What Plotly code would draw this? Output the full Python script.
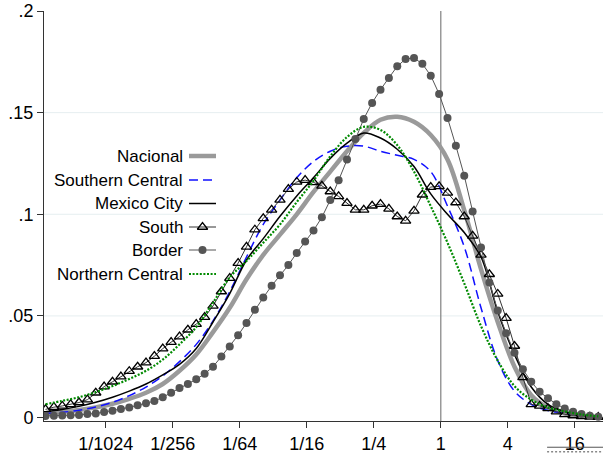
import numpy as np
import plotly.graph_objects as go

# Evaluation grid, log2 of the income ratio
grid_log2 = [-11.8, -11.55, -11.3, -11.05, -10.8, -10.55, -10.3, -10.05, -9.8, -9.55,
             -9.3, -9.05, -8.8, -8.55, -8.3, -8.05, -7.8, -7.55, -7.3, -7.05,
             -6.8, -6.55, -6.3, -6.05, -5.8, -5.55, -5.3, -5.05, -4.8, -4.55,
             -4.3, -4.05, -3.8, -3.55, -3.3, -3.05, -2.8, -2.55, -2.3, -2.05,
             -1.8, -1.55, -1.3, -1.05, -0.8, -0.55, -0.3, -0.05, 0.2, 0.45,
             0.7, 0.95, 1.2, 1.45, 1.7, 1.95, 2.2, 2.45, 2.7, 2.95,
             3.2, 3.45, 3.7, 3.95, 4.2, 4.45, 4.7]
smooth_log2 = grid_log2[::2]

south = [0.0040, 0.0051, 0.0057, 0.0065, 0.0074, 0.0088, 0.0122, 0.0152, 0.0176, 0.0201,
         0.0228, 0.0250, 0.0270, 0.0302, 0.0339, 0.0371, 0.0398, 0.0432, 0.0460, 0.0494,
         0.0549, 0.0620, 0.0686, 0.0760, 0.0840, 0.0924, 0.0980, 0.1022, 0.1071, 0.1124,
         0.1159, 0.1168, 0.1157, 0.1140, 0.1112, 0.1088, 0.1055, 0.1022, 0.1022, 0.1042,
         0.1050, 0.1027, 0.0989, 0.0968, 0.1017, 0.1096, 0.1134, 0.1137, 0.1105, 0.1058,
         0.0989, 0.0894, 0.0800, 0.0705, 0.0608, 0.0489, 0.0352, 0.0198, 0.0065, 0.0057,
         0.0045, 0.0029, 0.0016, 0.0010, 0.0006, 0.0003, 0.0002]

border = [0.0008, 0.0009, 0.0010, 0.0011, 0.0013, 0.0017, 0.0020, 0.0027, 0.0034, 0.0042,
          0.0050, 0.0060, 0.0070, 0.0081, 0.0100, 0.0122, 0.0145, 0.0165, 0.0188, 0.0215,
          0.0250, 0.0300, 0.0350, 0.0405, 0.0465, 0.0530, 0.0590, 0.0648, 0.0700, 0.0750,
          0.0810, 0.0866, 0.0920, 0.0985, 0.1070, 0.1167, 0.1270, 0.1370, 0.1469, 0.1548,
          0.1613, 0.1671, 0.1728, 0.1764, 0.1769, 0.1740, 0.1682, 0.1592, 0.1474, 0.1337,
          0.1190, 0.1014, 0.0837, 0.0664, 0.0526, 0.0415, 0.0319, 0.0237, 0.0176, 0.0127,
          0.0095, 0.0066, 0.0045, 0.0029, 0.0017, 0.0009, 0.0004]

nacional = [0.0020, 0.0028, 0.0037, 0.0050, 0.0068, 0.0092, 0.0122, 0.0165, 0.0230, 0.0310,
            0.0420, 0.0540, 0.0680, 0.0800, 0.0900, 0.1000, 0.1110, 0.1210, 0.1310, 0.1400,
            0.1465, 0.1480, 0.1455, 0.1390, 0.1270, 0.1020, 0.0730, 0.0470, 0.0250, 0.0110,
            0.0048, 0.0020, 0.0008, 0.0003]

southern_central = [0.0020, 0.0026, 0.0036, 0.0052, 0.0075, 0.0108, 0.0150, 0.0205, 0.0275, 0.0360,
                    0.0475, 0.0620, 0.0790, 0.0950, 0.1070, 0.1180, 0.1260, 0.1310, 0.1335, 0.1335,
                    0.1310, 0.1290, 0.1270, 0.1210, 0.1040, 0.0840, 0.0540, 0.0280, 0.0130, 0.0065,
                    0.0035, 0.0020, 0.0010, 0.0005]

mexico_city = [0.0029, 0.0040, 0.0055, 0.0075, 0.0100, 0.0130, 0.0165, 0.0210, 0.0262, 0.0340,
               0.0470, 0.0610, 0.0775, 0.0880, 0.0990, 0.1090, 0.1180, 0.1275, 0.1350, 0.1400,
               0.1375, 0.1320, 0.1235, 0.1100, 0.1000, 0.0910, 0.0790, 0.0520, 0.0310, 0.0150,
               0.0065, 0.0030, 0.0013, 0.0005]

northern_central = [0.0065, 0.0082, 0.0100, 0.0125, 0.0155, 0.0190, 0.0230, 0.0285, 0.0360, 0.0445,
                    0.0565, 0.0690, 0.0770, 0.0860, 0.0950, 0.1060, 0.1165, 0.1285, 0.1380, 0.1430,
                    0.1415, 0.1340, 0.1210, 0.1040, 0.0860, 0.0660, 0.0450, 0.0280, 0.0155, 0.0088,
                    0.0050, 0.0030, 0.0015, 0.0006]

x_tick_vals = [1 / 1024, 1 / 256, 1 / 64, 1 / 16, 1 / 4, 1, 4, 16]
x_tick_text = ["1/1024", "1/256", "1/64", "1/16", "1/4", "1", "4", "16"]
y_tick_vals = [0, 0.05, 0.1, 0.15, 0.2]
y_tick_text = ["0", ".05", ".1", ".15", ".2"]

FONT = "Liberation Sans, Arial, sans-serif"

x_grid = 2.0 ** np.array(grid_log2)
x_smooth = 2.0 ** np.array(smooth_log2)

series = [
    dict(name="Nacional", x=x_smooth, y=nacional,
         line=dict(color="#9a9a9a", width=4.5), mode="lines", marker=None),
    dict(name="Southern Central", x=x_smooth, y=southern_central,
         line=dict(color="#1010ff", width=1.5, dash="9px,5px"), mode="lines", marker=None),
    dict(name="Mexico City", x=x_smooth, y=mexico_city,
         line=dict(color="#000000", width=1.5), mode="lines", marker=None),
    dict(name="South", x=x_grid, y=south,
         line=dict(color="#333333", width=1), mode="lines+markers",
         marker=dict(symbol="triangle-up-open", size=9, color="#000000",
                     line=dict(width=1.3, color="#000000"))),
    dict(name="Border", x=x_grid, y=border,
         line=dict(color="#555555", width=1), mode="lines+markers",
         marker=dict(symbol="circle", size=8, color="#555555")),
    dict(name="Northern Central", x=x_smooth, y=northern_central,
         line=dict(color="#008a00", width=2.2, dash="2px,1.6px"), mode="lines", marker=None),
]

fig = go.Figure()
for s in series:
    shape = "spline" if s["mode"] == "lines" else "linear"
    kw = dict(x=s["x"], y=s["y"], mode=s["mode"], name=s["name"],
              line=dict(shape=shape, **s["line"]), showlegend=False, hoverinfo="skip")
    if s["marker"] is not None:
        kw["marker"] = s["marker"]
    fig.add_trace(go.Scatter(**kw))

# Legend drawn in a pixel-space overlay: label right-aligned, key to its right
leg_rows = [156, 180, 203.5, 227, 250, 274]
for s, ry in zip(series, leg_rows):
    kw = dict(x=[189, 216], y=[ry, ry], mode="lines", xaxis="x2", yaxis="y2",
              line=s["line"], showlegend=False, hoverinfo="skip")
    fig.add_trace(go.Scatter(**kw))
    if s["marker"] is not None:
        fig.add_trace(go.Scatter(x=[202.5], y=[ry], mode="markers", xaxis="x2", yaxis="y2",
                                 marker=s["marker"], showlegend=False, hoverinfo="skip"))
    fig.add_annotation(x=185, y=ry, xref="x2", yref="y2", text=s["name"], showarrow=False,
                       xanchor="right", yanchor="middle", font=dict(family=FONT, size=17, color="#000"))

# Horizontal grid lines at the interior y ticks
for gy in y_tick_vals[1:-1]:
    fig.add_shape(type="line", xref="paper", yref="y", x0=0, x1=1, y0=gy, y1=gy,
                  line=dict(color="#e6eef0", width=1), layer="below")

# Reference line at ratio = 1
fig.add_shape(type="line", xref="x", yref="paper", x0=1, x1=1, y0=0, y1=1,
              line=dict(color="#808080", width=1.2), layer="below")

# Clipped rule fragments in the lower-right corner of the page
fig.add_shape(type="line", xref="paper", yref="paper", x0=0.90, x1=1.0, y0=-0.064, y1=-0.064,
              line=dict(color="#555555", width=1))
fig.add_shape(type="line", xref="paper", yref="paper", x0=0.90, x1=1.0, y0=-0.075, y1=-0.075,
              line=dict(color="#888888", width=1.5, dash="2px,2px"))

axis_font = dict(family=FONT, size=18, color="#000")
fig.update_layout(
    width=603, height=454,
    margin=dict(l=44, r=0, t=11, b=33, autoexpand=False),
    paper_bgcolor="white", plot_bgcolor="white",
    xaxis=dict(type="log", range=[np.log10(2 ** -11.845), np.log10(2 ** 4.842)],
               tickvals=x_tick_vals, ticktext=x_tick_text, showgrid=False, zeroline=False,
               showline=True, linecolor="#333", linewidth=1, ticks="outside", ticklen=6,
               tickcolor="#333", tickfont=axis_font, automargin=False),
    yaxis=dict(range=[-0.0017, 0.2], tickvals=y_tick_vals, ticktext=y_tick_text,
               showgrid=False, zeroline=False, showline=True, linecolor="#333", linewidth=1,
               ticks="outside", ticklen=6, tickcolor="#333", tickfont=axis_font, automargin=False),
    xaxis2=dict(overlaying="x", range=[44, 603], visible=False),
    yaxis2=dict(overlaying="y", range=[421, 11], visible=False),
)

fig.write_html("out.html")
